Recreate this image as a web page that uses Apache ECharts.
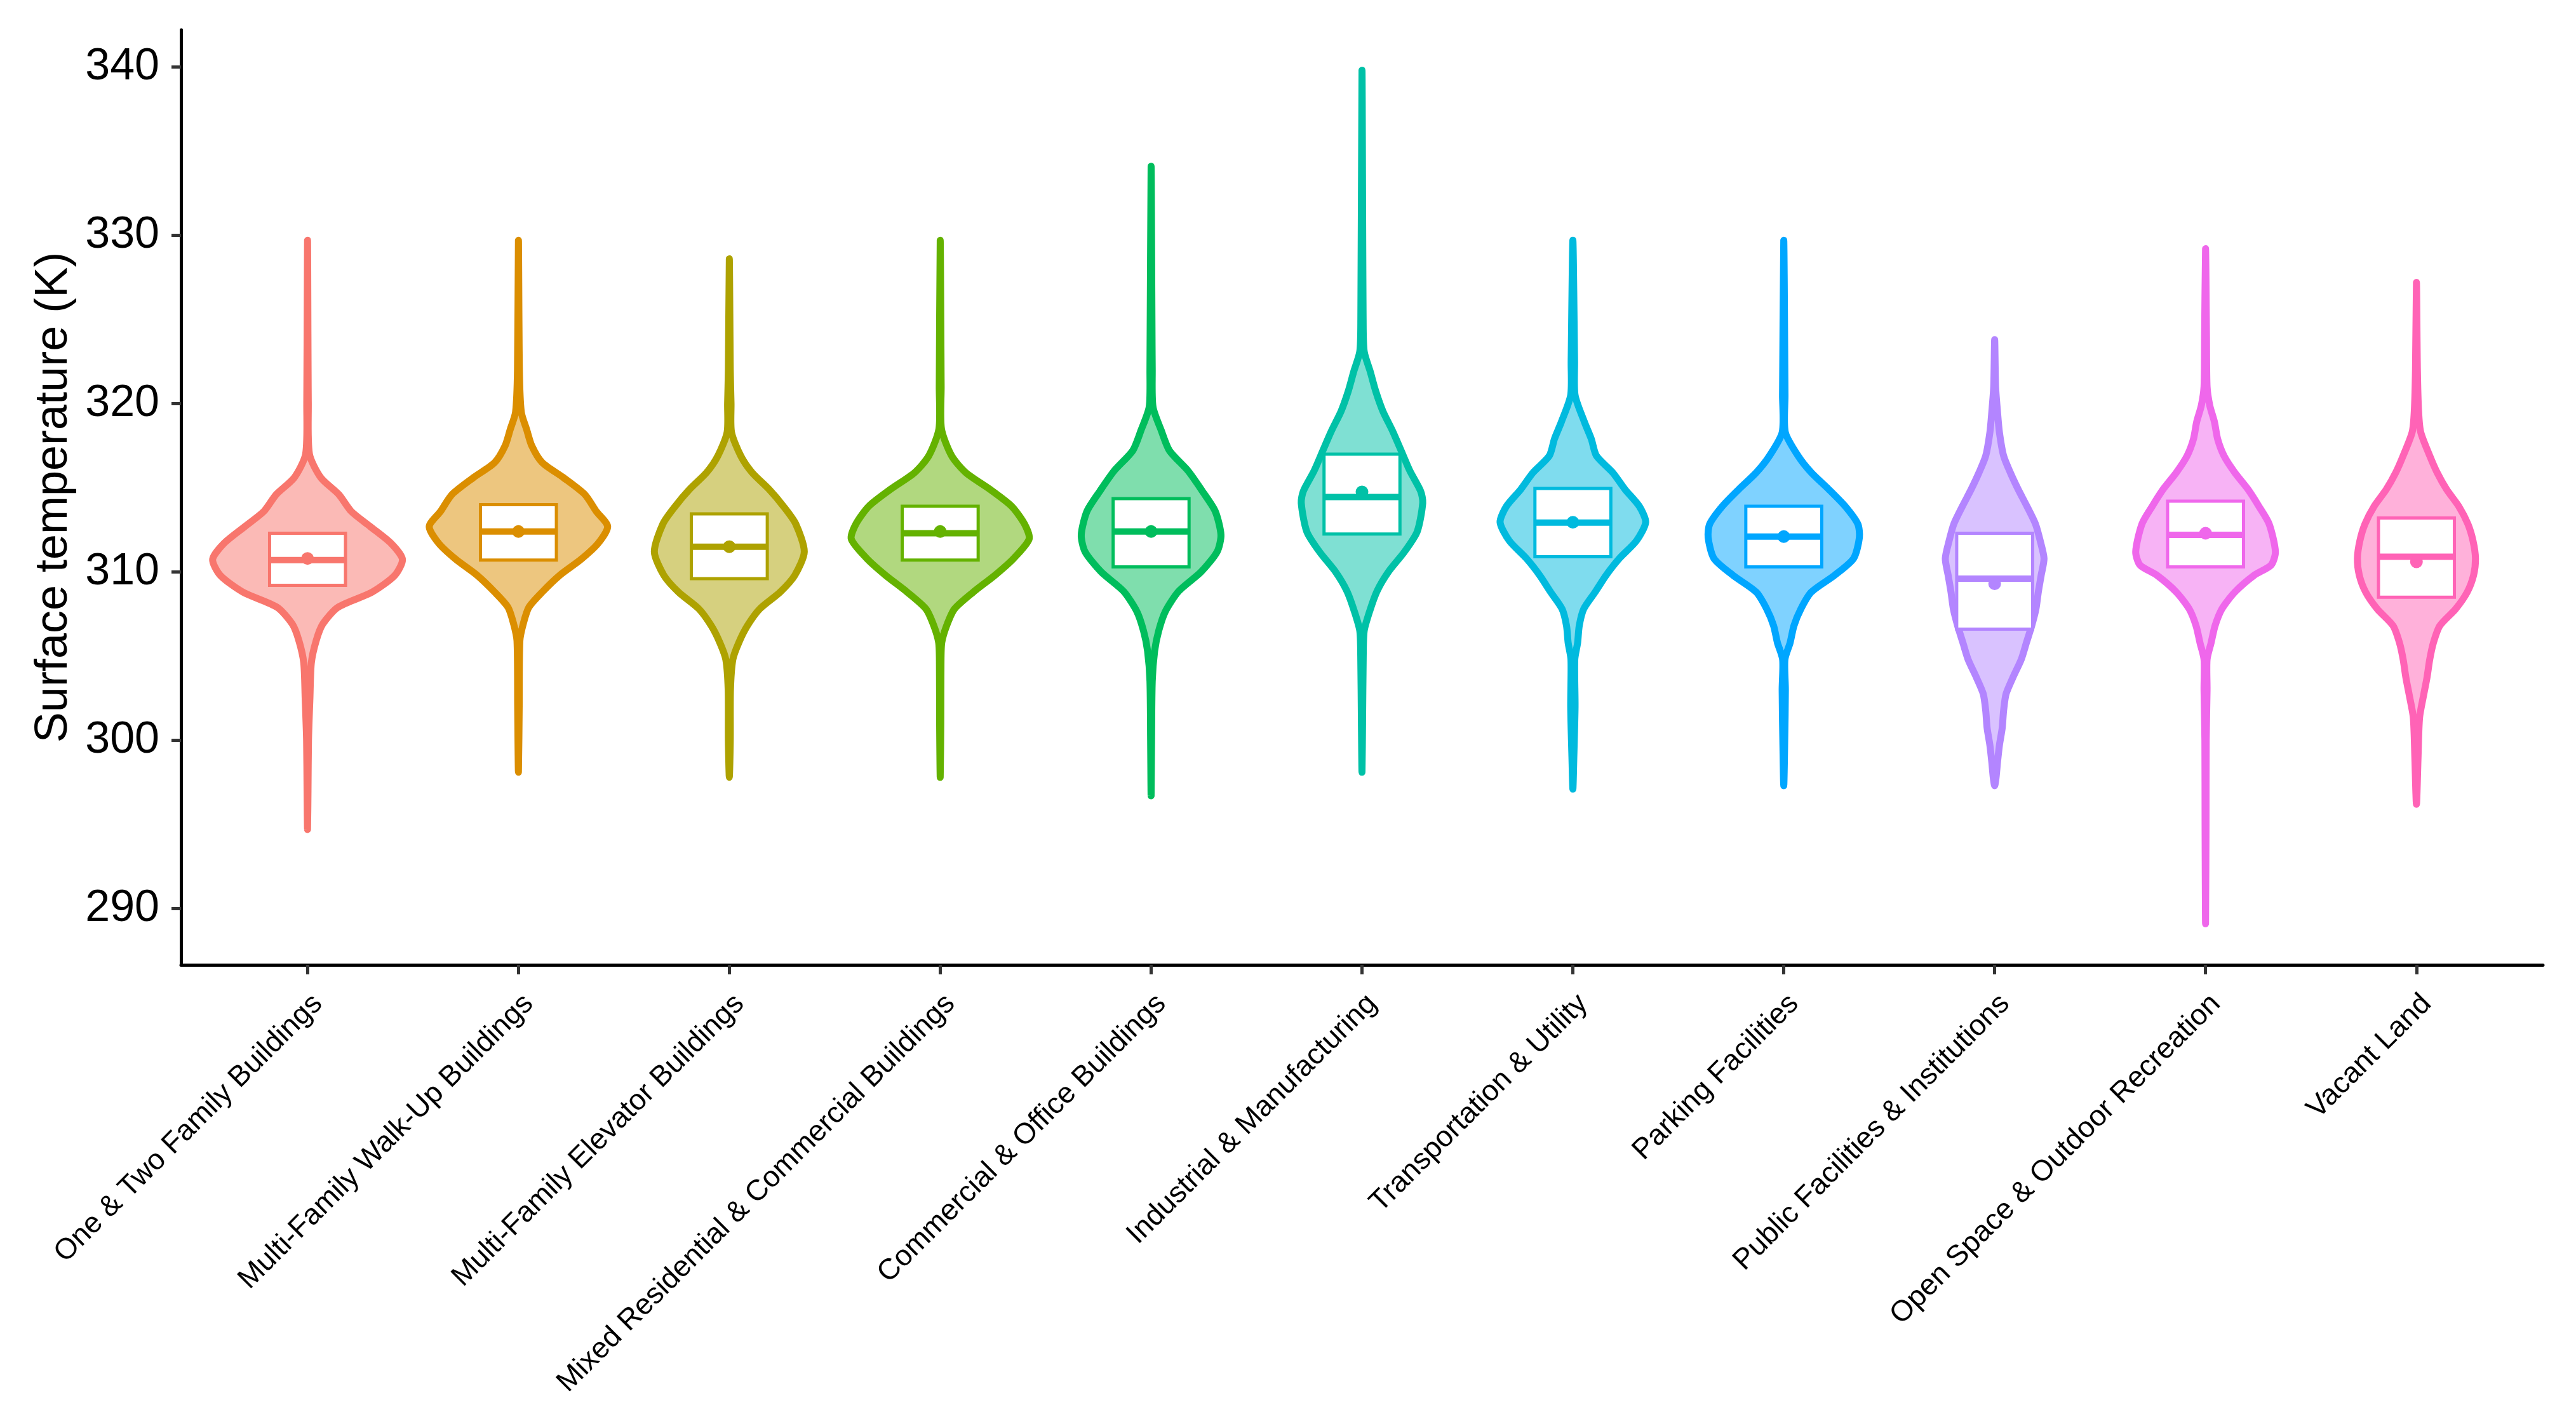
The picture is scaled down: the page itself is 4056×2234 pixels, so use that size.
<!DOCTYPE html>
<html>
<head>
<meta charset="utf-8">
<script src="https://cdn.jsdelivr.net/npm/echarts@6/dist/echarts.min.js"></script>
<style>
html,body{margin:0;padding:0;background:#fff;}
#chart{width:4056px;height:2234px;}
</style>
</head>
<body>
<div id="chart"></div>
<script>
// ---------------- DATA ----------------
const categories = [
  "One & Two Family Buildings",
  "Multi-Family Walk-Up Buildings",
  "Multi-Family Elevator Buildings",
  "Mixed Residential & Commercial Buildings",
  "Commercial & Office Buildings",
  "Industrial & Manufacturing",
  "Transportation & Utility",
  "Parking Facilities",
  "Public Facilities & Institutions",
  "Open Space & Outdoor Recreation",
  "Vacant Land"
];
const yTicks = [290, 300, 310, 320, 330, 340];

const q1     = [309.2, 310.7, 309.6, 310.7, 310.3, 312.25, 310.9, 310.3, 306.6, 310.3, 308.5];
const median = [310.7, 312.4, 311.5, 312.3, 312.4, 314.45, 312.93, 312.1, 309.6, 312.2, 310.9];
const q3     = [312.3, 314.0, 313.45, 313.9, 314.35, 317.0, 314.96, 313.9, 312.3, 314.2, 313.2];
const mean   = [310.8, 312.4, 311.5, 312.4, 312.4, 314.75, 312.95, 312.1, 309.3, 312.3, 310.6];

// violin profiles: [temperature (K), relative density (1 = widest violin)]
const densityOneTwoFamily = [[294.7,0],[297,0.005],[300,0.01],[302.5,0.025],[304.6,0.04],[305.9,0.09],[306.9,0.16],[307.9,0.32],[308.8,0.68],[309.8,0.92],[310.75,1.0],[311.7,0.88],[312.7,0.66],[313.6,0.46],[314.6,0.33],[315.6,0.14],[317.0,0.02],[320,0.008],[329.7,0]];
const densityWalkUp = [[298.1,0],[302,0.008],[305.9,0.015],[306.9,0.05],[307.9,0.11],[308.8,0.25],[309.8,0.435],[310.75,0.66],[311.7,0.84],[312.7,0.94],[313.6,0.82],[314.6,0.70],[315.6,0.475],[316.5,0.25],[317.5,0.14],[318.45,0.087],[319.5,0.03],[322,0.01],[329.7,0]];
const densityElevator = [[297.8,0],[300,0.01],[303,0.012],[304.8,0.037],[305.8,0.10],[306.8,0.19],[307.8,0.32],[308.8,0.535],[309.8,0.69],[311.2,0.79],[312.85,0.70],[313.9,0.57],[314.9,0.42],[315.9,0.24],[316.9,0.12],[318.3,0.023],[320,0.018],[322,0.01],[328.6,0]];
const densityMixed = [[297.8,0],[301,0.006],[304.5,0.008],[305.8,0.016],[306.8,0.067],[307.8,0.15],[308.8,0.348],[309.8,0.576],[310.8,0.774],[311.95,0.937],[312.85,0.888],[313.9,0.753],[314.9,0.526],[315.9,0.27],[316.9,0.12],[318.5,0.013],[321,0.01],[329.7,0]];
const densityCommercial = [[296.7,0],[300,0.005],[303.5,0.012],[305.3,0.037],[306.5,0.08],[307.65,0.15],[308.85,0.29],[310.0,0.526],[311.2,0.696],[312.2,0.736],[313.6,0.676],[314.8,0.54],[316.0,0.39],[317.2,0.194],[318.4,0.107],[319.8,0.02],[322,0.012],[334.1,0]];
const densityIndustrial = [[298.1,0],[301,0.006],[305,0.013],[306.5,0.023],[307.65,0.08],[308.85,0.158],[310.0,0.278],[311.2,0.448],[312.4,0.582],[314.1,0.64],[314.8,0.618],[316.0,0.505],[317.2,0.413],[318.4,0.32],[319.55,0.22],[320.75,0.144],[321.9,0.087],[323.1,0.023],[325,0.012],[339.8,0]];
const densityTransport = [[297.1,0],[299,0.01],[302,0.023],[304.8,0.02],[305.8,0.05],[306.8,0.067],[307.8,0.114],[308.8,0.234],[309.8,0.35],[310.8,0.49],[311.85,0.67],[312.95,0.767],[313.9,0.70],[314.9,0.55],[315.9,0.42],[316.9,0.248],[317.9,0.194],[318.9,0.122],[320.5,0.023],[322.5,0.018],[329.7,0]];
const densityParking = [[297.3,0],[300,0.01],[303,0.017],[304.8,0.012],[305.8,0.067],[306.8,0.107],[307.8,0.18],[308.8,0.29],[309.8,0.535],[310.8,0.736],[312.05,0.797],[312.85,0.78],[313.9,0.647],[314.9,0.475],[315.9,0.29],[316.9,0.15],[318.3,0.016],[320.5,0.013],[329.7,0]];
const densityPublic = [[297.3,0],[297.8,0.015],[298.7,0.03],[299.7,0.05],[300.75,0.08],[301.75,0.094],[302.75,0.12],[303.75,0.194],[304.8,0.28],[305.8,0.335],[306.8,0.39],[307.8,0.435],[308.8,0.46],[309.8,0.49],[310.8,0.52],[311.85,0.48],[312.85,0.43],[313.9,0.34],[314.9,0.248],[315.9,0.165],[316.9,0.094],[318.3,0.05],[319.5,0.03],[321,0.01],[323.8,0]];
const densityOpenSpace = [[289.1,0],[295,0.005],[300,0.007],[303,0.016],[304.8,0.016],[305.8,0.059],[306.8,0.1],[307.8,0.172],[308.8,0.308],[309.8,0.512],[310.4,0.69],[311.2,0.736],[312.85,0.67],[313.9,0.562],[314.9,0.448],[315.9,0.308],[316.9,0.194],[317.9,0.127],[318.9,0.094],[319.9,0.044],[321,0.016],[324,0.01],[329.2,0]];
const densityVacant = [[296.2,0],[299,0.017],[301.35,0.033],[302.75,0.078],[303.75,0.112],[304.8,0.14],[305.8,0.179],[306.8,0.246],[307.8,0.413],[308.8,0.535],[309.8,0.602],[310.8,0.622],[311.85,0.596],[312.85,0.542],[313.9,0.446],[314.9,0.318],[315.9,0.218],[316.9,0.14],[318.3,0.045],[319.5,0.023],[322,0.01],[327.2,0]];

const profiles = [densityOneTwoFamily, densityWalkUp, densityElevator, densityMixed, densityCommercial,
  densityIndustrial, densityTransport, densityParking, densityPublic, densityOpenSpace, densityVacant];

// ---------------- STYLE ----------------
const palette = ["#F8766D","#DB8E00","#AEA200","#64B200","#00BD5C","#00C1A7","#00BADE","#00A6FF","#B385FF","#EF67EB","#FF63B6"];
function withAlpha(hex, a) {
  const r = parseInt(hex.slice(1,3),16), g = parseInt(hex.slice(3,5),16), b = parseInt(hex.slice(5,7),16);
  return `rgba(${r},${g},${b},${a})`;
}
const VIOLIN_HALF = 0.45;  // half of violin max width (category units)
const BOX_HALF = 0.18;

const chart = echarts.init(document.getElementById('chart'), null, {renderer: 'canvas'});
const catIdx = categories.map((c, i) => i);

const option = {
  animation: false,
  backgroundColor: '#ffffff',
  grid: {left: 285, right: 52, top: 47, bottom: 715, containLabel: false},
  xAxis: {
    type: 'value', min: -0.6, max: 10.6,
    splitLine: {show: false},
    axisLine: {show: true, onZero: false, lineStyle: {color: '#000', width: 5}},
    axisTick: {show: true, customValues: catIdx, length: 15, lineStyle: {color: '#333', width: 5}},
    axisLabel: {
      show: true, customValues: catIdx, rotate: 45, margin: 38, verticalAlign: 'top',
      formatter: v => categories[Math.round(v)] || '',
      fontFamily: 'Liberation Sans, Arial, sans-serif', fontSize: 46, color: '#000'
    }
  },
  yAxis: {
    type: 'value', min: 286.66, max: 342.2,
    name: 'Surface temperature (K)', nameLocation: 'middle', nameGap: 164,
    nameTextStyle: {fontFamily: 'Liberation Sans, Arial, sans-serif', fontSize: 72, color: '#000'},
    splitLine: {show: false},
    axisLine: {show: true, onZero: false, lineStyle: {color: '#000', width: 5}},
    axisTick: {show: true, customValues: yTicks, length: 15, lineStyle: {color: '#333', width: 5}},
    axisLabel: {
      show: true, customValues: yTicks, margin: 34,
      fontFamily: 'Liberation Sans, Arial, sans-serif', fontSize: 70, color: '#000'
    }
  },
  series: [
    {
      type: 'custom',
      clip: false,
      data: catIdx.map(i => [i, q1[i], median[i], q3[i]]),
      renderItem: function (params, api) {
        const i = api.value(0);
        const prof = profiles[i];
        const right = prof.map(p => api.coord([i + p[1] * VIOLIN_HALF, p[0]]));
        const left = prof.slice().reverse().map(p => api.coord([i - p[1] * VIOLIN_HALF, p[0]]));
        const pts = right.concat(left.slice(1, -1));
        const a = api.coord([i - BOX_HALF, api.value(3)]);
        const b = api.coord([i + BOX_HALF, api.value(1)]);
        const m1 = api.coord([i - BOX_HALF, api.value(2)]);
        const m2 = api.coord([i + BOX_HALF, api.value(2)]);
        const col = palette[i];
        return {
          type: 'group',
          children: [
            {type: 'polygon', shape: {points: pts, smooth: 0.25},
             style: {fill: withAlpha(col, 0.5), stroke: col, lineWidth: 11, lineJoin: 'round', lineCap: 'round'}},
            {type: 'rect', shape: {x: a[0], y: a[1], width: b[0] - a[0], height: b[1] - a[1]},
             style: {fill: '#ffffff', stroke: col, lineWidth: 5}},
            {type: 'line', shape: {x1: m1[0], y1: m1[1], x2: m2[0], y2: m2[1]},
             style: {stroke: col, lineWidth: 10}}
          ]
        };
      }
    },
    {
      type: 'scatter',
      data: catIdx.map(i => [i, mean[i]]),
      symbol: 'circle',
      symbolSize: 20,
      itemStyle: {color: p => palette[p.dataIndex], opacity: 1}
    }
  ]
};
chart.setOption(option);
</script>
</body>
</html>
